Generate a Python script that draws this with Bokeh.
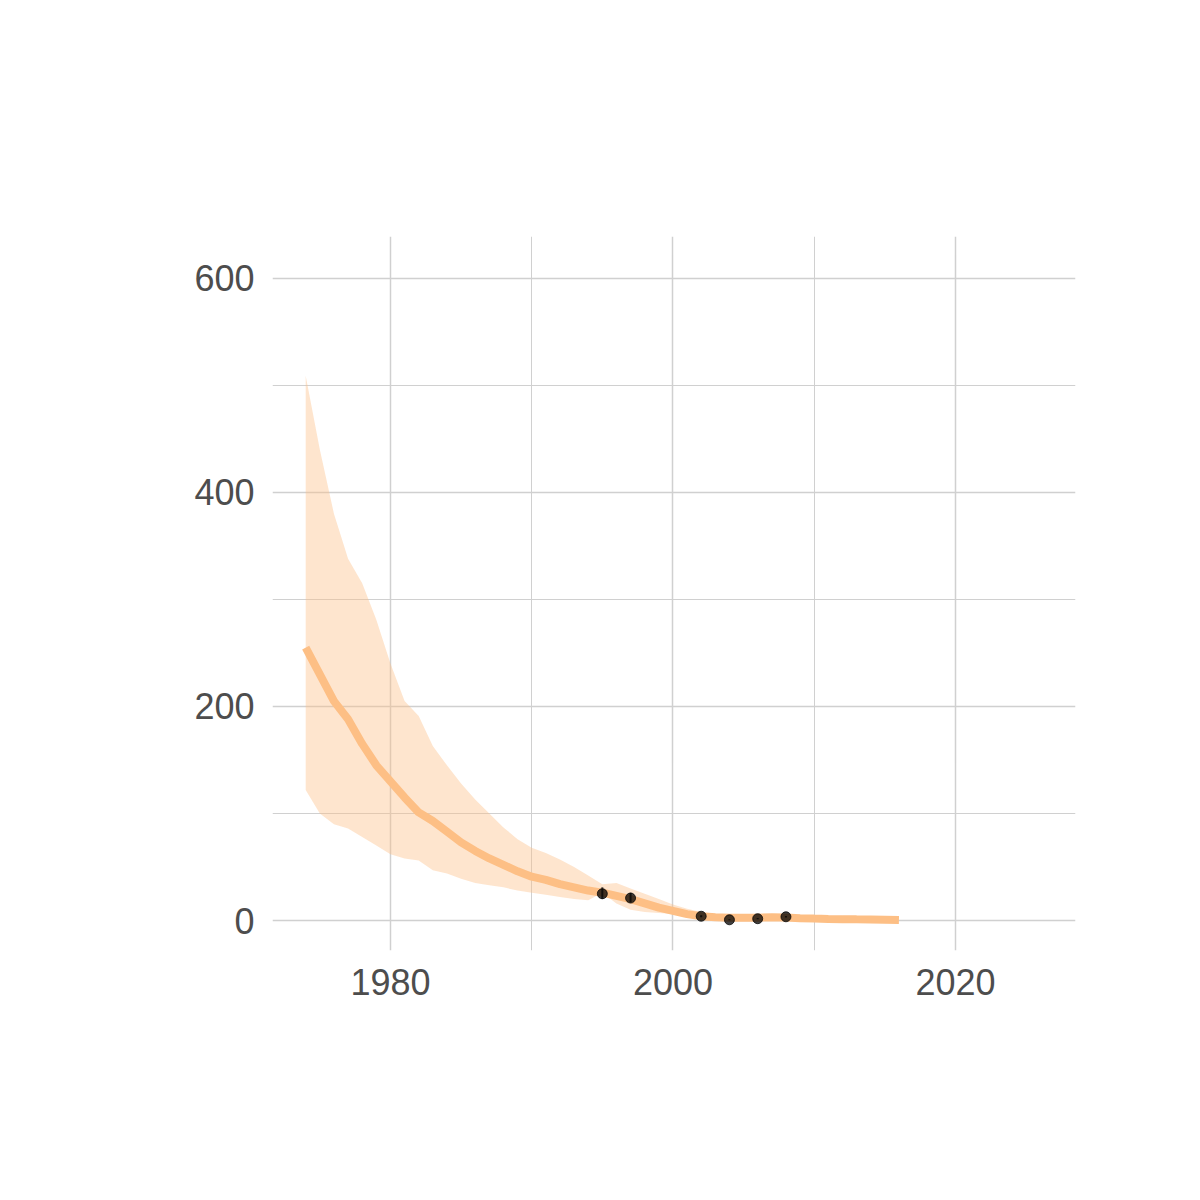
from bokeh.plotting import figure
from bokeh.models import Label, FixedTicker, Range1d
from bokeh.embed import file_html
from bokeh.resources import INLINE
import math

# fitted trend
years = list(range(1974, 2017))
mean = [255, 230, 205, 188, 165, 145, 130, 115, 101, 93, 83, 73, 65, 58, 52, 46, 41, 38, 34, 31,
        28, 26, 23, 20, 16, 12, 9, 6, 4, 3, 2.5, 2.5, 2.7, 3, 2.8, 2.2, 1.8, 1.5, 1.3, 1.1, 1, 0.8, 0.5]

# uncertainty band
band_years = list(range(1974, 2003))
upper = [509, 440, 380, 338, 315, 281, 240, 205, 191, 163, 145, 128, 113, 100, 87, 76, 68, 63, 57, 50,
         42, 34, 35, 30, 25, 20, 15, 11, 8]
lower = [122, 100, 90, 86, 78, 70, 62, 58, 56, 47, 44, 39, 35, 33, 31, 28, 26, 24, 22, 20,
         19, 26, 16, 10, 8, 7, 6, 6, 6]

# survey counts
obs_years = [1995, 1997, 2002, 2004, 2006, 2008]
obs = [25, 21, 4, 0.7, 1.7, 3.5]
obs_lo = [20, 17, 3, 0.3, 1.2, 2.8]
obs_hi = [31, 26, 5, 1.2, 2.3, 4.3]

font = "Liberation Sans"

p = figure(width=1184, height=1184, output_backend="svg", toolbar_location=None,
           x_range=Range1d(1971.65, 2028.5), y_range=Range1d(-28, 639),
           min_border_left=272, min_border_right=109, min_border_top=236, min_border_bottom=234,
           outline_line_color=None)

p.varea(x=band_years, y1=lower, y2=upper, fill_color="#fdbf85", fill_alpha=0.4)
p.line(years, mean, line_color="#fdbf85", line_width=8)
p.segment(x0=obs_years, y0=obs_lo, x1=obs_years, y1=obs_hi, line_color="black", line_alpha=0.7, line_width=2)
p.scatter(obs_years, obs, size=10, color="black", alpha=0.75)

p.xaxis.ticker = FixedTicker(ticks=[1980, 2000, 2020], minor_ticks=[1970, 1990, 2010])
p.yaxis.ticker = FixedTicker(ticks=[0, 200, 400, 600], minor_ticks=[100, 300, 500])
for ax in (p.xaxis, p.yaxis):
    ax.axis_line_color = None
    ax.major_tick_line_color = None
    ax.minor_tick_line_color = None
    ax.major_label_text_font = font
    ax.major_label_text_font_size = "36px"
    ax.major_label_text_color = "#4d4d4d"
    ax.major_label_standoff = 12
for g in (p.xgrid, p.ygrid):
    g.grid_line_color = "#d0d0d0"
    g.grid_line_width = 1.5
    g.minor_grid_line_color = "#d0d0d0"
    g.minor_grid_line_width = 1

# labels positioned relative to the plot frame
p.add_layout(Label(x=0, y=770, x_units="screen", y_units="screen", text="Central Rockies",
                   text_font=font, text_font_size="66px", text_font_style="bold",
                   text_baseline="alphabetic"))
p.add_layout(Label(x=803, y=-112, x_units="screen", y_units="screen", text="Year",
                   text_font=font, text_font_size="54px", text_align="right",
                   text_baseline="alphabetic"))
p.add_layout(Label(x=-102, y=585, x_units="screen", y_units="screen", text="Abundance",
                   text_font=font, text_font_size="54px", text_align="center",
                   text_baseline="alphabetic", angle=math.pi / 2))

open("out.html", "w").write(file_html(p, INLINE))
